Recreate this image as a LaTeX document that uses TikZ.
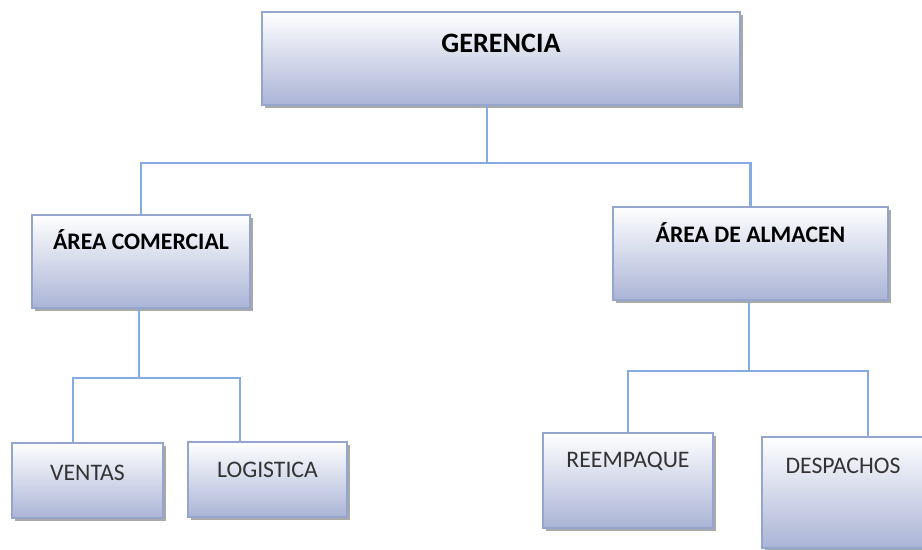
\documentclass[tikz,border=0pt]{standalone}
\usepackage{fontspec}
\setmainfont{Carlito}
\usepackage{xcolor}
\usepackage{tikz}
\usetikzlibrary{shadows}

\definecolor{boxbot}{RGB}{170,180,214}
\definecolor{boxline}{RGB}{150,165,205}
\definecolor{linkblue}{RGB}{132,172,226}

\begin{document}
\begin{tikzpicture}[x=0.02cm, y=-0.02cm,
  unit/.style={draw=boxline, line width=0.7pt, top color=white, bottom color=boxbot,
    inner sep=0pt, anchor=base,
    drop shadow={shadow xshift=0.06cm, shadow yshift=-0.06cm, fill=gray!85, opacity=0.8}},
  head/.style={unit, font=\fontsize{16}{18}\selectfont\bfseries},
  area/.style={unit, font=\fontsize{13.5}{16}\selectfont\bfseries},
  sub/.style={unit, font=\fontsize{13.5}{16}\selectfont, text=black!80},
  link/.style={draw=linkblue, line width=1.4pt}]
\clip (0,0) rectangle (922,550);
\node[head, minimum width=9.56cm, text height=0.82cm, text depth=1.04cm] (ger) at (501, 53) {GERENCIA};
\node[area, minimum width=4.36cm, text height=0.70cm, text depth=1.16cm] (com) at (141, 250) {ÁREA COMERCIAL};
\node[area, minimum width=5.5cm, text height=0.72cm, text depth=1.14cm] (alm) at (750.5, 243) {ÁREA DE ALMACEN};
\node[sub, minimum width=3.02cm, text height=0.74cm, text depth=0.76cm] (ven) at (87.5, 480) {VENTAS};
\node[sub, minimum width=3.18cm, text height=0.70cm, text depth=0.80cm] (log) at (267.5, 477) {LOGISTICA};
\node[sub, minimum width=3.4cm, text height=0.68cm, text depth=1.22cm] (ree) at (628, 467) {REEMPAQUE};
\node[sub, minimum width=3.24cm, text height=0.72cm, text depth=1.5cm] (des) at (843, 473) {DESPACHOS};
% bus points
\coordinate (busA) at (487, 163);
\coordinate (busB) at (139, 378);
\coordinate (busC) at (749, 371);
\coordinate (dV) at (73, 378);
\coordinate (dL) at (240, 378);
\coordinate (dR) at (628, 371);
\coordinate (dD) at (868, 371);
% top level
\draw[link] (ger.south -| busA) -- (busA);
\draw[link] (com.north) |- (busA) -| (alm.north);
% comercial
\draw[link] (com.south -| busB) -- (busB);
\draw[link] (ven.north -| dV) -- (dV) -- (dL) -- (log.north -| dL);
% almacen
\draw[link] (alm.south -| busC) -- (busC);
\draw[link] (ree.north -| dR) -- (dR) -- (dD) -- (des.north -| dD);
\end{tikzpicture}
\end{document}
